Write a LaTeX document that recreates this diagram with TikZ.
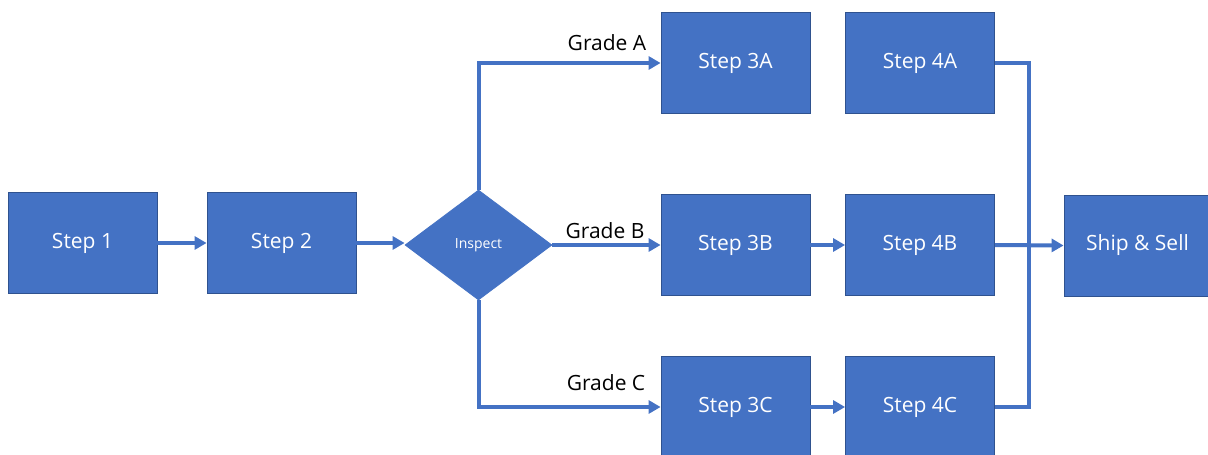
\documentclass[tikz,border=0pt]{standalone}
\usepackage{fontspec}
\setmainfont{Open Sans}
\usetikzlibrary{shapes.geometric,arrows.meta}
\definecolor{boxblue}{HTML}{4472C4}
\definecolor{edgeblue}{HTML}{2F528F}
\tikzset{
  stepbox/.style={rectangle, fill=boxblue, draw=edgeblue, line width=0.8pt,
    minimum width=149pt, minimum height=101pt, inner sep=0pt,
    text=white, font=\fontsize{21}{25}\selectfont},
  decision/.style={diamond, fill=boxblue, draw=boxblue, line width=0.8pt,
    minimum width=147pt, minimum height=110pt, inner sep=0pt, aspect=1.34,
    text=white, font=\fontsize{14}{17}\selectfont},
  flow/.style={draw=boxblue, line width=4pt},
  conn/.style={flow, -{Triangle[length=12pt,width=13pt]}},
  gradelabel/.style={text=black, inner sep=0pt, font=\fontsize{21}{25}\selectfont}
}
\begin{document}
\begin{tikzpicture}[x=1pt,y=-1pt]
\useasboundingbox (0,0) rectangle (1208,455);
\begin{scope}
\clip (0,0) rectangle (1208,455);
% process boxes
\node[stepbox] (s1) at (82.5,243) {Step 1};
\node[stepbox] (s2) at (281.5,243) {Step 2};
\node[decision] (insp) at (478.5,245) {Inspect};
\node[stepbox] (s3a) at (735.5,63) {Step 3A};
\node[stepbox] (s4a) at (920,63) {Step 4A};
\node[stepbox] (s3b) at (735.5,245) {Step 3B};
\node[stepbox] (s4b) at (920,245) {Step 4B};
\node[stepbox, minimum width=147pt] (ship) at (1137.5,245.5) {Ship \& Sell};
\node[stepbox] (s3c) at (735.5,407) {Step 3C};
\node[stepbox] (s4c) at (920,407) {Step 4C};
% connectors
\draw[conn] (s1.east) -- (s2.west);
\draw[conn] (s2.east) -- (s2.east -| insp.west);
\draw[conn] (insp.north) |- (s3a.west);
\draw[conn] (insp.east) -- (s3b.west);
\draw[conn] (insp.south) |- (s3c.west);
\draw[conn] (s3b.east) -- (s4b.west);
\draw[conn] (s3c.east) -- (s4c.west);
\coordinate (bus) at (1029,63);
\draw[flow] (s4a.east) -- (bus) |- (s4c.east);
\draw[conn] (s4b.east) -- (ship.west);
% branch labels
\node[gradelabel] (ga) at (607,43) {Grade A};
\node[gradelabel] (gb) at (605,231) {Grade B};
\node[gradelabel] (gc) at (606,383) {Grade C};
\end{scope}
\end{tikzpicture}
\end{document}
